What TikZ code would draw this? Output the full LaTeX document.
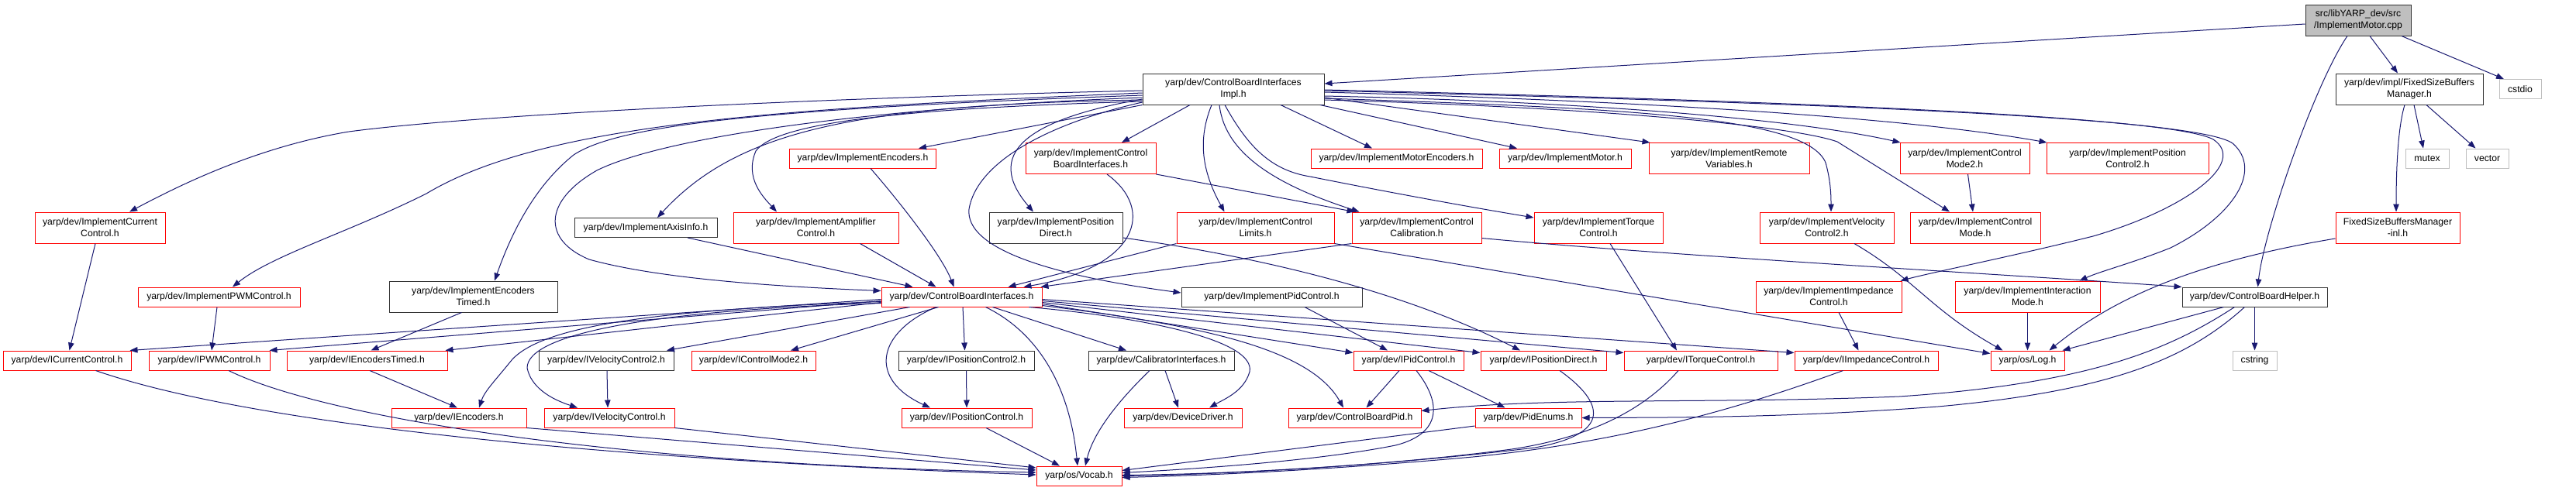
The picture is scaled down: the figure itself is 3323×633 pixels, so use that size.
\documentclass[tikz,border=0pt]{standalone}
\usepackage{fontspec}
\setmainfont{Liberation Sans}
\usetikzlibrary{arrows.meta}
\definecolor{edgeblue}{RGB}{25,25,112}
\definecolor{boxred}{RGB}{255,0,0}
\definecolor{boxdark}{RGB}{50,50,50}
\definecolor{boxgray}{RGB}{191,191,191}
\newcommand{\ndfont}{\fontsize{12.2}{15}\selectfont}
\begin{document}
\begin{tikzpicture}[x=1pt,y=-1pt,
  nbase/.style={rectangle, inner sep=0pt, align=center, font=\ndfont, line width=1pt, text=black},
  rbox/.style={nbase, draw=boxred},
  kbox/.style={nbase, draw=boxdark},
  gbox/.style={nbase, draw=boxgray},
  hone/.style={minimum height=25pt},
  htwo/.style={minimum height=40pt},
  conn/.style={draw=edgeblue, line width=1pt, -{Triangle[length=10pt,width=7.5pt]}},
]
\fill[white] (0,0) rectangle (3323,633);
\useasboundingbox (0,0) rectangle (3323,633);

% rank 0
\node[nbase, draw=boxdark, fill=boxgray, htwo, minimum width=136pt] (root) at (3042,26) {src/libYARP\_dev/src\\/ImplementMotor.cpp};
% rank 1
\node[kbox, htwo, minimum width=234pt] (cbii) at (1591,115) {yarp/dev/ControlBoardInterfaces\\Impl.h};
\node[kbox, htwo, minimum width=190pt] (fsbm) at (3108,115) {yarp/dev/impl/FixedSizeBuffers\\Manager.h};
\node[gbox, hone, minimum width=54pt] (cstdio) at (3251,115) {cstdio};
% rank 2
\node[rbox, hone, minimum width=189pt] (menc) at (1113,204.5) {yarp/dev/ImplementEncoders.h};
\node[rbox, htwo, minimum width=168pt] (mcbi) at (1407,204.5) {yarp/dev/ImplementControl\\BoardInterfaces.h};
\node[rbox, hone, minimum width=221pt] (mmenc) at (1801.5,204.5) {yarp/dev/ImplementMotorEncoders.h};
\node[rbox, hone, minimum width=170pt] (mmotor) at (2019,204.5) {yarp/dev/ImplementMotor.h};
\node[rbox, htwo, minimum width=207pt] (mremote) at (2230.5,204.5) {yarp/dev/ImplementRemote\\Variables.h};
\node[rbox, htwo, minimum width=167pt] (mcmtwo) at (2534.5,204.5) {yarp/dev/ImplementControl\\Mode2.h};
\node[rbox, htwo, minimum width=209pt] (mpctwo) at (2744.5,204.5) {yarp/dev/ImplementPosition\\Control2.h};
\node[gbox, hone, minimum width=56pt] (mutex) at (3131,204.5) {mutex};
\node[gbox, hone, minimum width=55pt] (vector) at (3208.5,204.5) {vector};
% rank 3
\node[rbox, htwo, minimum width=168pt] (mcur) at (129,294) {yarp/dev/ImplementCurrent\\Control.h};
\node[kbox, hone, minimum width=184pt] (maxis) at (833,294) {yarp/dev/ImplementAxisInfo.h};
\node[rbox, htwo, minimum width=213pt] (mamp) at (1052.5,294) {yarp/dev/ImplementAmplifier\\Control.h};
\node[kbox, htwo, minimum width=172pt] (mpd) at (1362,294) {yarp/dev/ImplementPosition\\Direct.h};
\node[rbox, htwo, minimum width=203pt] (mcl) at (1619.5,294) {yarp/dev/ImplementControl\\Limits.h};
\node[rbox, htwo, minimum width=167pt] (mcal) at (1827.5,294) {yarp/dev/ImplementControl\\Calibration.h};
\node[rbox, htwo, minimum width=166pt] (mtc) at (2062,294) {yarp/dev/ImplementTorque\\Control.h};
\node[rbox, htwo, minimum width=173pt] (mvctwo) at (2356.5,294) {yarp/dev/ImplementVelocity\\Control2.h};
\node[rbox, htwo, minimum width=168pt] (mcm) at (2548,294) {yarp/dev/ImplementControl\\Mode.h};
\node[rbox, htwo, minimum width=160pt] (fsbmi) at (3093,294) {FixedSizeBuffersManager\\-inl.h};
% rank 4
\node[rbox, hone, minimum width=209pt] (mpwm) at (282.5,383.5) {yarp/dev/ImplementPWMControl.h};
\node[kbox, htwo, minimum width=217pt] (met) at (610.5,383) {yarp/dev/ImplementEncoders\\Timed.h};
\node[rbox, hone, minimum width=207pt] (cbi) at (1240.5,383.5) {yarp/dev/ControlBoardInterfaces.h};
\node[kbox, hone, minimum width=233pt] (mpid) at (1640.5,383.5) {yarp/dev/ImplementPidControl.h};
\node[rbox, htwo, minimum width=188pt] (mimp) at (2359,383) {yarp/dev/ImplementImpedance\\Control.h};
\node[rbox, htwo, minimum width=187pt] (mim) at (2615.5,383) {yarp/dev/ImplementInteraction\\Mode.h};
\node[kbox, hone, minimum width=187pt] (cbh) at (2908.5,383.5) {yarp/dev/ControlBoardHelper.h};
% rank 5
\node[rbox, hone, minimum width=165pt] (icur) at (86.5,465.5) {yarp/dev/ICurrentControl.h};
\node[rbox, hone, minimum width=156pt] (ipwm) at (270,465.5) {yarp/dev/IPWMControl.h};
\node[rbox, hone, minimum width=207pt] (iet) at (473.5,465.5) {yarp/dev/IEncodersTimed.h};
\node[kbox, hone, minimum width=174pt] (ivctwo) at (782,465.5) {yarp/dev/IVelocityControl2.h};
\node[rbox, hone, minimum width=160pt] (icmtwo) at (972,465.5) {yarp/dev/IControlMode2.h};
\node[kbox, hone, minimum width=175pt] (ipctwo) at (1246.5,465.5) {yarp/dev/IPositionControl2.h};
\node[kbox, hone, minimum width=188pt] (calib) at (1498,465.5) {yarp/dev/CalibratorInterfaces.h};
\node[rbox, hone, minimum width=142pt] (ipid) at (1817,465.5) {yarp/dev/IPidControl.h};
\node[rbox, hone, minimum width=162pt] (ipd) at (1991,465.5) {yarp/dev/IPositionDirect.h};
\node[rbox, hone, minimum width=198pt] (itc) at (2194,465.5) {yarp/dev/ITorqueControl.h};
\node[rbox, hone, minimum width=185pt] (iimp) at (2407.5,465.5) {yarp/dev/IImpedanceControl.h};
\node[rbox, hone, minimum width=95pt] (log) at (2615.5,465.5) {yarp/os/Log.h};
\node[gbox, hone, minimum width=57pt] (cstring) at (2908.5,465.5) {cstring};
% rank 6
\node[rbox, hone, minimum width=174pt] (ienc) at (592,539.5) {yarp/dev/IEncoders.h};
\node[rbox, hone, minimum width=168pt] (ivc) at (786,539.5) {yarp/dev/IVelocityControl.h};
\node[rbox, hone, minimum width=168pt] (ipc) at (1247,539.5) {yarp/dev/IPositionControl.h};
\node[rbox, hone, minimum width=152pt] (dd) at (1526,539.5) {yarp/dev/DeviceDriver.h};
\node[rbox, hone, minimum width=171pt] (cbpid) at (1747.5,539.5) {yarp/dev/ControlBoardPid.h};
\node[rbox, hone, minimum width=137pt] (pe) at (1971.5,539.5) {yarp/dev/PidEnums.h};
% rank 7
\node[rbox, hone, minimum width=110pt] (vocab) at (1392,614.5) {yarp/os/Vocab.h};

% ---- edges from root
\draw[conn] ([yshift=-5pt]root.west) -- ([yshift=7pt]cbii.east);
\draw[conn] ([xshift=15pt]root.south) -- ([xshift=-15pt]fsbm.north);
\draw[conn] ([xshift=56pt]root.south) -- ([xshift=-21pt]cstdio.north);
\draw[conn] ([xshift=-14pt]root.south) .. controls (2985,110) and (2920,300) .. ([xshift=4pt]cbh.north);
% ---- fsbm
\draw[conn] ([xshift=6pt]fsbm.south) -- ([xshift=-5pt]mutex.north);
\draw[conn] ([xshift=22pt]fsbm.south) -- ([xshift=-15pt]vector.north);
\draw[conn] ([xshift=-6pt]fsbm.south) .. controls (3093,165) and (3091,220) .. ([xshift=-2pt]fsbmi.north);
\draw[conn] ([yshift=-14pt]fsbmi.west) .. controls (2820,340) and (2720,390) .. ([xshift=28pt]log.north);
% ---- cbh
\draw[conn] (cbh.south) -- (cstring.north);
\draw[conn] ([xshift=-40pt]cbh.south) -- ([xshift=-3pt]log.north east);
\draw[conn] ([xshift=-26pt]cbh.south) .. controls (2800,450) and (2700,495) .. (2450,512) .. controls (2200,522) and (2000,512) .. ([yshift=9pt]cbpid.east);
\draw[conn] ([xshift=-13pt]cbh.south) .. controls (2820,465) and (2720,505) .. (2500,525) .. controls (2300,540) and (2150,539) .. (pe.east);
% ---- into log
\draw[conn] (mim.south) -- (log.north);
\draw[conn] ([xshift=35.5pt]mvctwo.south) .. controls (2470,360) and (2490,400) .. ([xshift=-32pt]log.north);
\draw[conn] (mcl.south east) -- ([yshift=-4pt]log.north west);
% ---- into cbi from rank 2/3
\draw[conn] (mcl.south west) -- ([xshift=60pt]cbi.north);
\draw[conn] (mcal.south west) -- ([xshift=-2pt]cbi.north east);
\draw[conn] ([yshift=7pt]mcal.south east) .. controls (2150,330) and (2600,355) .. (cbh.north west);
\draw[conn] (mcbi.south east) -- ([xshift=-80pt]mcal.north);
\draw[conn] ([xshift=21pt]mcbi.south) .. controls (1490,270) and (1470,345) .. ([xshift=80pt]cbi.north);
\draw[conn] ([xshift=10pt]menc.south) .. controls (1160,260) and (1215,330) .. ([xshift=-10pt]cbi.north);
\draw[conn] ([xshift=57pt]mamp.south) -- ([xshift=-33pt]cbi.north);
\draw[conn] ([xshift=54pt]maxis.south) -- ([xshift=-63pt]cbi.north);
% ---- from cbii
\draw[conn] ([yshift=-2pt]cbii.west) .. controls (1000,128) and (600,150) .. (450,170) .. controls (330,190) and (230,240) .. ([xshift=38pt]mcur.north);
\draw[conn] ([yshift=-5pt]cbii.west) .. controls (1000,140) and (700,160) .. (550,250) .. controls (450,300) and (350,330) .. ([xshift=17.5pt]mpwm.north);
\draw[conn] ([yshift=-8pt]cbii.west) .. controls (1000,140) and (800,160) .. (740,200) .. controls (690,240) and (660,300) .. ([xshift=27.5pt]met.north);
\draw[conn] ([yshift=-11pt]cbii.west) .. controls (1100,140) and (850,180) .. (770,220) .. controls (700,260) and (700,310) .. (760,335) .. controls (850,360) and (1000,370) .. ([yshift=8pt]cbi.west);
\draw[conn] ([yshift=-14pt]cbii.west) .. controls (1100,135) and (950,170) .. ([xshift=15pt]maxis.north);
\draw[conn] ([yshift=-16pt]cbii.west) .. controls (1150,140) and (1000,160) .. (975,195) .. controls (960,230) and (985,255) .. ([xshift=-50.5pt]mamp.north);
\draw[conn] (cbii.south west) -- ([xshift=72pt]menc.north);
\draw[conn] ([yshift=-13pt]cbii.west) .. controls (1320,155) and (1270,200) .. ([xshift=-29pt]mpd.north);
\draw[conn] ([yshift=-17pt]cbii.west) .. controls (1350,160) and (1260,210) .. (1250,270) .. controls (1245,320) and (1350,355) .. ([yshift=5.5pt]mpid.west);
\draw[conn] ([xshift=-56pt]cbii.south) -- ([xshift=40pt]mcbi.north);
\draw[conn] ([xshift=-28pt]cbii.south) .. controls (1545,180) and (1550,220) .. ([xshift=-40pt]mcl.north);
\draw[conn] ([xshift=-18pt]cbii.south) .. controls (1580,200) and (1650,240) .. ([xshift=-74pt]mcal.north);
\draw[conn] ([xshift=-11pt]cbii.south) .. controls (1610,190) and (1640,220) .. (1690,228) .. controls (1800,250) and (1900,268) .. ([yshift=13pt]mtc.west);
\draw[conn] ([xshift=61pt]cbii.south) -- ([xshift=-31.5pt]mmenc.north);
\draw[conn] ([xshift=112pt]cbii.south) -- ([xshift=-62pt]mmotor.north);
\draw[conn] ([yshift=-11pt]cbii.east) -- ([xshift=2pt]mremote.north west);
\draw[conn] ([yshift=-4pt]cbii.east) .. controls (2100,130) and (2450,150) .. ([xshift=1pt]mpctwo.north west);
\draw[conn] ([yshift=-9pt]cbii.east) .. controls (2000,130) and (2300,150) .. ([xshift=1pt]mcmtwo.north west);
\draw[conn] ([yshift=-12pt]cbii.east) .. controls (2100,140) and (2330,150) .. (2355,210) .. controls (2362,235) and (2362,255) .. ([xshift=5.5pt]mvctwo.north);
\draw[conn] ([yshift=-14pt]cbii.east) .. controls (2100,140) and (2320,165) .. (2370,183) -- ([xshift=-33pt]mcm.north);
\draw[conn] ([yshift=-1pt]cbii.east) .. controls (2300,130) and (2800,150) .. (2855,180) .. controls (2900,210) and (2820,270) .. (2700,305) .. controls (2600,330) and (2500,350) .. ([xshift=-2pt]mimp.north east);
\draw[conn] ([yshift=-2pt]cbii.east) .. controls (2300,132) and (2830,150) .. (2880,185) .. controls (2920,220) and (2880,280) .. (2800,320) .. controls (2750,340) and (2710,350) .. ([xshift=67pt]mim.north);
% ---- implementation -> interface
\draw[conn] ([xshift=4pt]mcmtwo.south) -- ([xshift=-3pt]mcm.north);
\draw[conn] ([xshift=-6pt]mcur.south) -- ([xshift=3pt]icur.north);
\draw[conn] ([xshift=-2.5pt]mpwm.south) -- ([xshift=3pt]ipwm.north);
\draw[conn] ([xshift=-15pt]met.south) -- ([xshift=5pt]iet.north);
\draw[conn] ([yshift=-13pt]mpd.east) .. controls (1600,328) and (1800,370) .. ([xshift=-30pt]ipd.north);
\draw[conn] ([xshift=42.5pt]mpid.south) -- ([xshift=-27pt]ipid.north);
\draw[conn] ([xshift=15pt]mtc.south) -- ([xshift=-31pt]itc.north);
\draw[conn] ([xshift=13pt]mimp.south) -- ([xshift=-10pt]iimp.north);
% ---- from cbi
\draw[conn] ([yshift=-3pt]cbi.west) -- ([xshift=-2pt]icur.north east);
\draw[conn] ([yshift=-5pt]cbi.west) -- ([xshift=-1pt]ipwm.north east);
\draw[conn] ([yshift=-7pt]cbi.west) -- ([xshift=-3pt]iet.north east);
\draw[conn] ([yshift=-6pt]cbi.west) .. controls (850,400) and (700,420) .. (660,465) .. controls (640,490) and (625,505) .. ([xshift=26pt]ienc.north);
\draw[conn] ([yshift=-8pt]cbi.west) .. controls (850,400) and (680,430) .. (680,475) .. controls (685,500) and (710,515) .. ([xshift=-41pt]ivc.north);
\draw[conn] ([xshift=-67pt]cbi.south) -- ([xshift=78pt]ivctwo.north);
\draw[conn] ([xshift=-30pt]cbi.south) -- ([xshift=48pt]icmtwo.north);
\draw[conn] ([xshift=1.5pt]cbi.south) -- ([xshift=-2pt]ipctwo.north);
\draw[conn] ([xshift=-33pt]cbi.south) .. controls (1130,430) and (1120,490) .. ([xshift=-47pt]ipc.north);
\draw[conn] ([xshift=31pt]cbi.south) .. controls (1340,430) and (1380,500) .. ([xshift=-2pt]vocab.north);
\draw[conn] ([xshift=40pt]cbi.south) -- ([xshift=-45pt]calib.north);
\draw[conn] ([xshift=87pt]cbi.south) .. controls (1480,410) and (1620,440) .. (1612,480) .. controls (1605,505) and (1580,515) .. ([xshift=34pt]dd.north);
\draw[conn] ([yshift=-9pt]cbi.east) -- ([yshift=10pt]ipid.west);
\draw[conn] ([yshift=-7pt]cbi.east) -- ([yshift=10pt]ipd.west);
\draw[conn] ([yshift=-5pt]cbi.east) -- ([yshift=10pt]itc.west);
\draw[conn] ([yshift=-3pt]cbi.east) -- ([yshift=10pt]iimp.west);
\draw[conn] ([yshift=-11pt]cbi.east) .. controls (1550,420) and (1690,450) .. ([xshift=-14.5pt]cbpid.north);
% ---- lower ranks
\draw[conn] ([xshift=37pt]icur.south) .. controls (300,540) and (700,590) .. ([yshift=1.5pt]vocab.west);
\draw[conn] ([xshift=25pt]ipwm.south) .. controls (420,540) and (800,600) .. ([yshift=4.5pt]vocab.west);
\draw[conn] (ienc.south east) -- ([yshift=7.5pt]vocab.west);
\draw[conn] (ivc.south east) -- ([yshift=10.5pt]vocab.west);
\draw[conn] ([xshift=1pt]ivctwo.south) -- ([xshift=-2pt]ivc.north);
\draw[conn] ([xshift=3.5pt]iet.south) -- ([xshift=-2pt]ienc.north);
\draw[conn] (ipctwo.south) -- (ipc.north);
\draw[conn] ([xshift=25pt]ipc.south) -- ([xshift=-25pt]vocab.north);
\draw[conn] ([xshift=-15pt]calib.south) .. controls (1440,520) and (1410,560) .. ([xshift=8pt]vocab.north);
\draw[conn] ([xshift=5pt]calib.south) -- ([xshift=-6pt]dd.north);
\draw[conn] ([xshift=-12pt]ipid.south) -- ([xshift=15pt]cbpid.north);
\draw[conn] ([xshift=26pt]ipid.south) -- ([xshift=-30pt]pe.north);
\draw[conn] ([xshift=10pt]ipid.south) .. controls (1860,520) and (1860,560) .. (1800,575) .. controls (1700,595) and (1550,605) .. ([yshift=4pt]vocab.east);
\draw[conn] ([xshift=21pt]ipd.south) .. controls (2070,520) and (2080,560) .. (1980,578) .. controls (1800,600) and (1600,612) .. ([yshift=1pt]vocab.east);
\draw[conn] ([xshift=-29pt]itc.south) .. controls (2120,530) and (2050,565) .. (1950,580) .. controls (1800,600) and (1600,612) .. (vocab.east);
\draw[conn] ([xshift=-30pt]iimp.south) .. controls (2250,525) and (2100,570) .. (1900,590) .. controls (1700,608) and (1550,614) .. ([yshift=-2pt]vocab.east);
\draw[conn] ([yshift=-10.5pt]pe.west) -- ([yshift=7pt]vocab.east);
\end{tikzpicture}
\end{document}
